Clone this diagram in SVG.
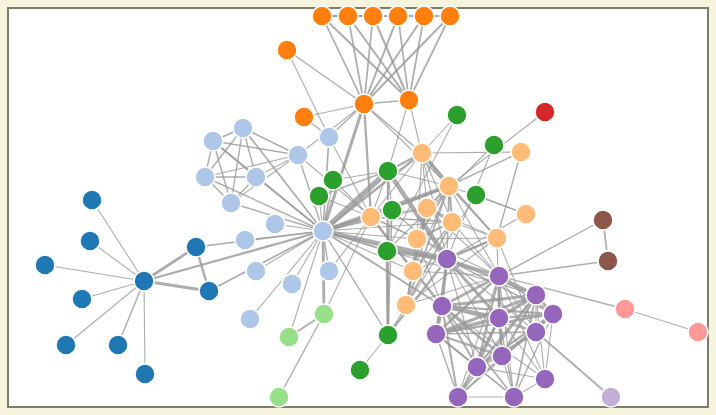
<svg xmlns="http://www.w3.org/2000/svg" width="716" height="415" viewBox="0 0 716 415">
<style>
.links{stroke:#999;stroke-opacity:.8}
.node circle{r:10px;stroke:#fff;stroke-width:1.5}
.g0 circle{fill:#98df8a}.g1 circle{fill:#1f77b4}.g2 circle{fill:#aec7e8}.g3 circle{fill:#ff7f0e}.g4 circle{fill:#ffbb78}.g5 circle{fill:#2ca02c}.g6 circle{fill:#d62728}.g7 circle{fill:#ff9896}.g8 circle{fill:#9467bd}.g9 circle{fill:#c5b0d5}.g10 circle{fill:#8c564b}
</style>
<rect x="0" y="0" width="716" height="415" fill="#f6f4dc"/>
<rect x="8" y="8" width="700" height="399" fill="#fff" stroke="#7d7d6d" stroke-width="2"/>
<g class="links" stroke-width="1.1">
<line x1="92" y1="200" x2="144" y2="281"/>
<line x1="196" y1="247" x2="144" y2="281" stroke-width="2.83"/>
<line x1="209" y1="291" x2="144" y2="281" stroke-width="3.16"/>
<line x1="209" y1="291" x2="196" y2="247" stroke-width="2.45"/>
<line x1="90" y1="241" x2="144" y2="281"/>
<line x1="45" y1="265" x2="144" y2="281"/>
<line x1="82" y1="299" x2="144" y2="281"/>
<line x1="66" y1="345" x2="144" y2="281"/>
<line x1="118" y1="345" x2="144" y2="281" stroke-width="1.41"/>
<line x1="145" y1="374" x2="144" y2="281"/>
<line x1="323" y1="231" x2="275" y2="224"/>
<line x1="323" y1="231" x2="209" y2="291" stroke-width="1.73"/>
<line x1="323" y1="231" x2="196" y2="247" stroke-width="1.73"/>
<line x1="323" y1="231" x2="144" y2="281" stroke-width="2.24"/>
<line x1="287" y1="50" x2="329" y2="137"/>
<line x1="245" y1="240" x2="323" y2="231"/>
<line x1="256" y1="271" x2="323" y2="231"/>
<line x1="292" y1="284" x2="323" y2="231"/>
<line x1="322" y1="16" x2="409" y2="100" stroke-width="2"/>
<line x1="348" y1="16" x2="409" y2="100" stroke-width="2"/>
<line x1="348" y1="16" x2="322" y2="16" stroke-width="2"/>
<line x1="373" y1="16" x2="409" y2="100" stroke-width="2"/>
<line x1="373" y1="16" x2="322" y2="16" stroke-width="2"/>
<line x1="373" y1="16" x2="348" y2="16" stroke-width="2"/>
<line x1="398" y1="16" x2="409" y2="100" stroke-width="1.73"/>
<line x1="398" y1="16" x2="373" y2="16" stroke-width="2"/>
<line x1="424" y1="16" x2="409" y2="100" stroke-width="1.73"/>
<line x1="424" y1="16" x2="398" y2="16" stroke-width="2.24"/>
<line x1="450" y1="16" x2="409" y2="100" stroke-width="1.73"/>
<line x1="450" y1="16" x2="424" y2="16" stroke-width="2"/>
<line x1="364" y1="104" x2="409" y2="100" stroke-width="1.73"/>
<line x1="364" y1="104" x2="322" y2="16" stroke-width="1.73"/>
<line x1="364" y1="104" x2="348" y2="16" stroke-width="1.73"/>
<line x1="364" y1="104" x2="373" y2="16" stroke-width="1.73"/>
<line x1="364" y1="104" x2="398" y2="16" stroke-width="2"/>
<line x1="364" y1="104" x2="424" y2="16" stroke-width="2"/>
<line x1="364" y1="104" x2="450" y2="16" stroke-width="2"/>
<line x1="364" y1="104" x2="287" y2="50" stroke-width="1.41"/>
<line x1="364" y1="104" x2="323" y2="231" stroke-width="3"/>
<line x1="422" y1="153" x2="364" y2="104" stroke-width="1.41"/>
<line x1="422" y1="153" x2="323" y2="231" stroke-width="2.65"/>
<line x1="449" y1="186" x2="422" y2="153" stroke-width="3.61"/>
<line x1="449" y1="186" x2="364" y2="104"/>
<line x1="449" y1="186" x2="323" y2="231" stroke-width="3.46"/>
<line x1="388" y1="171" x2="422" y2="153" stroke-width="2"/>
<line x1="388" y1="171" x2="323" y2="231" stroke-width="5.57"/>
<line x1="388" y1="171" x2="409" y2="100"/>
<line x1="388" y1="171" x2="449" y2="186"/>
<line x1="371" y1="217" x2="323" y2="231" stroke-width="4.12"/>
<line x1="371" y1="217" x2="364" y2="104" stroke-width="2.24"/>
<line x1="371" y1="217" x2="449" y2="186" stroke-width="2.24"/>
<line x1="371" y1="217" x2="422" y2="153"/>
<line x1="371" y1="217" x2="388" y2="171"/>
<line x1="324" y1="314" x2="323" y2="231" stroke-width="2.83"/>
<line x1="324" y1="314" x2="371" y2="217"/>
<line x1="298" y1="155" x2="364" y2="104"/>
<line x1="298" y1="155" x2="371" y2="217"/>
<line x1="298" y1="155" x2="323" y2="231" stroke-width="1.41"/>
<line x1="304" y1="117" x2="364" y2="104"/>
<line x1="329" y1="137" x2="304" y2="117" stroke-width="1.41"/>
<line x1="329" y1="137" x2="323" y2="231" stroke-width="1.73"/>
<line x1="329" y1="137" x2="364" y2="104" stroke-width="1.41"/>
<line x1="329" y1="137" x2="371" y2="217"/>
<line x1="250" y1="319" x2="323" y2="231"/>
<line x1="329" y1="271" x2="323" y2="231" stroke-width="1.41"/>
<line x1="329" y1="271" x2="371" y2="217"/>
<line x1="243" y1="128" x2="323" y2="231" stroke-width="1.73"/>
<line x1="243" y1="128" x2="298" y2="155" stroke-width="1.41"/>
<line x1="213" y1="141" x2="323" y2="231" stroke-width="1.73"/>
<line x1="213" y1="141" x2="243" y2="128" stroke-width="1.73"/>
<line x1="213" y1="141" x2="298" y2="155" stroke-width="1.41"/>
<line x1="205" y1="177" x2="243" y2="128" stroke-width="1.41"/>
<line x1="205" y1="177" x2="213" y2="141" stroke-width="1.41"/>
<line x1="205" y1="177" x2="323" y2="231" stroke-width="1.41"/>
<line x1="205" y1="177" x2="298" y2="155"/>
<line x1="256" y1="177" x2="243" y2="128" stroke-width="1.41"/>
<line x1="256" y1="177" x2="213" y2="141" stroke-width="1.41"/>
<line x1="256" y1="177" x2="205" y2="177" stroke-width="1.41"/>
<line x1="256" y1="177" x2="323" y2="231" stroke-width="1.41"/>
<line x1="256" y1="177" x2="298" y2="155"/>
<line x1="231" y1="203" x2="243" y2="128" stroke-width="1.41"/>
<line x1="231" y1="203" x2="213" y2="141" stroke-width="1.41"/>
<line x1="231" y1="203" x2="205" y2="177" stroke-width="1.41"/>
<line x1="231" y1="203" x2="256" y2="177" stroke-width="1.41"/>
<line x1="231" y1="203" x2="323" y2="231" stroke-width="1.41"/>
<line x1="231" y1="203" x2="298" y2="155"/>
<line x1="526" y1="214" x2="449" y2="186"/>
<line x1="545" y1="112" x2="449" y2="186"/>
<line x1="497" y1="238" x2="422" y2="153" stroke-width="1.41"/>
<line x1="497" y1="238" x2="449" y2="186" stroke-width="1.73"/>
<line x1="521" y1="152" x2="497" y2="238" stroke-width="1.41"/>
<line x1="521" y1="152" x2="449" y2="186" stroke-width="1.41"/>
<line x1="521" y1="152" x2="422" y2="153"/>
<line x1="333" y1="180" x2="323" y2="231" stroke-width="1.73"/>
<line x1="333" y1="180" x2="388" y2="171"/>
<line x1="333" y1="180" x2="371" y2="217"/>
<line x1="289" y1="337" x2="324" y2="314" stroke-width="1.73"/>
<line x1="289" y1="337" x2="323" y2="231"/>
<line x1="279" y1="397" x2="324" y2="314" stroke-width="1.41"/>
<line x1="625" y1="309" x2="698" y2="332"/>
<line x1="499" y1="276" x2="625" y2="309" stroke-width="1.41"/>
<line x1="499" y1="276" x2="449" y2="186"/>
<line x1="499" y1="276" x2="371" y2="217"/>
<line x1="499" y1="276" x2="323" y2="231"/>
<line x1="387" y1="251" x2="388" y2="171" stroke-width="1.73"/>
<line x1="387" y1="251" x2="323" y2="231" stroke-width="1.41"/>
<line x1="457" y1="115" x2="387" y2="251"/>
<line x1="457" y1="115" x2="422" y2="153"/>
<line x1="388" y1="335" x2="387" y2="251" stroke-width="3"/>
<line x1="388" y1="335" x2="388" y2="171" stroke-width="1.41"/>
<line x1="388" y1="335" x2="323" y2="231" stroke-width="1.41"/>
<line x1="476" y1="195" x2="388" y2="335"/>
<line x1="476" y1="195" x2="526" y2="214"/>
<line x1="360" y1="370" x2="388" y2="335"/>
<line x1="392" y1="210" x2="388" y2="335" stroke-width="1.41"/>
<line x1="392" y1="210" x2="387" y2="251"/>
<line x1="392" y1="210" x2="388" y2="171"/>
<line x1="447" y1="259" x2="388" y2="335" stroke-width="2.45"/>
<line x1="447" y1="259" x2="387" y2="251" stroke-width="3.46"/>
<line x1="447" y1="259" x2="526" y2="214"/>
<line x1="447" y1="259" x2="392" y2="210"/>
<line x1="447" y1="259" x2="388" y2="171" stroke-width="4.58"/>
<line x1="447" y1="259" x2="323" y2="231" stroke-width="4.36"/>
<line x1="447" y1="259" x2="409" y2="100"/>
<line x1="447" y1="259" x2="449" y2="186" stroke-width="1.41"/>
<line x1="447" y1="259" x2="497" y2="238" stroke-width="2.24"/>
<line x1="447" y1="259" x2="499" y2="276" stroke-width="2"/>
<line x1="494" y1="145" x2="387" y2="251"/>
<line x1="494" y1="145" x2="447" y2="259"/>
<line x1="536" y1="332" x2="447" y2="259"/>
<line x1="536" y1="332" x2="497" y2="238"/>
<line x1="536" y1="332" x2="499" y2="276"/>
<line x1="442" y1="306" x2="447" y2="259" stroke-width="2.65"/>
<line x1="442" y1="306" x2="499" y2="276" stroke-width="2.65"/>
<line x1="442" y1="306" x2="371" y2="217" stroke-width="2.45"/>
<line x1="442" y1="306" x2="536" y2="332"/>
<line x1="442" y1="306" x2="323" y2="231" stroke-width="2"/>
<line x1="436" y1="334" x2="442" y2="306" stroke-width="3.87"/>
<line x1="436" y1="334" x2="447" y2="259" stroke-width="2.24"/>
<line x1="436" y1="334" x2="499" y2="276" stroke-width="2.45"/>
<line x1="436" y1="334" x2="536" y2="332" stroke-width="1.41"/>
<line x1="458" y1="397" x2="499" y2="276"/>
<line x1="458" y1="397" x2="442" y2="306" stroke-width="2"/>
<line x1="458" y1="397" x2="436" y2="334" stroke-width="1.41"/>
<line x1="502" y1="356" x2="499" y2="276" stroke-width="1.41"/>
<line x1="502" y1="356" x2="442" y2="306" stroke-width="2.45"/>
<line x1="502" y1="356" x2="458" y2="397" stroke-width="1.41"/>
<line x1="502" y1="356" x2="436" y2="334" stroke-width="2.24"/>
<line x1="502" y1="356" x2="536" y2="332"/>
<line x1="502" y1="356" x2="447" y2="259"/>
<line x1="499" y1="318" x2="447" y2="259" stroke-width="3"/>
<line x1="499" y1="318" x2="442" y2="306" stroke-width="4.12"/>
<line x1="499" y1="318" x2="436" y2="334" stroke-width="3.61"/>
<line x1="499" y1="318" x2="499" y2="276" stroke-width="2.65"/>
<line x1="499" y1="318" x2="536" y2="332" stroke-width="1.41"/>
<line x1="499" y1="318" x2="497" y2="238"/>
<line x1="499" y1="318" x2="502" y2="356" stroke-width="2.45"/>
<line x1="499" y1="318" x2="458" y2="397" stroke-width="1.73"/>
<line x1="477" y1="367" x2="436" y2="334" stroke-width="2.24"/>
<line x1="477" y1="367" x2="499" y2="276" stroke-width="2.24"/>
<line x1="477" y1="367" x2="499" y2="318" stroke-width="2.45"/>
<line x1="477" y1="367" x2="536" y2="332" stroke-width="1.41"/>
<line x1="477" y1="367" x2="442" y2="306" stroke-width="2"/>
<line x1="477" y1="367" x2="502" y2="356" stroke-width="1.73"/>
<line x1="477" y1="367" x2="458" y2="397" stroke-width="1.41"/>
<line x1="477" y1="367" x2="447" y2="259"/>
<line x1="536" y1="295" x2="447" y2="259" stroke-width="2.24"/>
<line x1="536" y1="295" x2="499" y2="318" stroke-width="3.46"/>
<line x1="536" y1="295" x2="499" y2="276" stroke-width="2.24"/>
<line x1="536" y1="295" x2="477" y2="367" stroke-width="2"/>
<line x1="536" y1="295" x2="442" y2="306" stroke-width="3.16"/>
<line x1="536" y1="295" x2="502" y2="356" stroke-width="2.45"/>
<line x1="536" y1="295" x2="458" y2="397" stroke-width="1.41"/>
<line x1="536" y1="295" x2="436" y2="334" stroke-width="3"/>
<line x1="536" y1="295" x2="536" y2="332"/>
<line x1="536" y1="295" x2="323" y2="231"/>
<line x1="553" y1="314" x2="477" y2="367" stroke-width="2.24"/>
<line x1="553" y1="314" x2="536" y2="295" stroke-width="2.65"/>
<line x1="553" y1="314" x2="499" y2="276" stroke-width="1.73"/>
<line x1="553" y1="314" x2="499" y2="318" stroke-width="2.24"/>
<line x1="553" y1="314" x2="442" y2="306" stroke-width="2.24"/>
<line x1="553" y1="314" x2="502" y2="356" stroke-width="2.24"/>
<line x1="553" y1="314" x2="458" y2="397" stroke-width="1.41"/>
<line x1="553" y1="314" x2="436" y2="334" stroke-width="2.24"/>
<line x1="553" y1="314" x2="536" y2="332"/>
<line x1="553" y1="314" x2="447" y2="259" stroke-width="1.41"/>
<line x1="514" y1="397" x2="536" y2="295" stroke-width="1.73"/>
<line x1="514" y1="397" x2="442" y2="306" stroke-width="1.73"/>
<line x1="514" y1="397" x2="436" y2="334"/>
<line x1="514" y1="397" x2="499" y2="318" stroke-width="1.41"/>
<line x1="514" y1="397" x2="553" y2="314" stroke-width="1.41"/>
<line x1="514" y1="397" x2="499" y2="276"/>
<line x1="514" y1="397" x2="477" y2="367"/>
<line x1="514" y1="397" x2="502" y2="356"/>
<line x1="514" y1="397" x2="458" y2="397"/>
<line x1="611" y1="397" x2="536" y2="332" stroke-width="1.73"/>
<line x1="427" y1="208" x2="449" y2="186" stroke-width="2.24"/>
<line x1="427" y1="208" x2="323" y2="231"/>
<line x1="427" y1="208" x2="422" y2="153"/>
<line x1="427" y1="208" x2="371" y2="217"/>
<line x1="427" y1="208" x2="499" y2="276"/>
<line x1="427" y1="208" x2="497" y2="238"/>
<line x1="452" y1="222" x2="449" y2="186" stroke-width="2.45"/>
<line x1="452" y1="222" x2="427" y2="208" stroke-width="2.45"/>
<line x1="452" y1="222" x2="323" y2="231"/>
<line x1="452" y1="222" x2="422" y2="153"/>
<line x1="452" y1="222" x2="371" y2="217" stroke-width="1.41"/>
<line x1="452" y1="222" x2="499" y2="276"/>
<line x1="452" y1="222" x2="497" y2="238"/>
<line x1="417" y1="239" x2="449" y2="186" stroke-width="2"/>
<line x1="417" y1="239" x2="452" y2="222" stroke-width="2"/>
<line x1="417" y1="239" x2="427" y2="208" stroke-width="2"/>
<line x1="417" y1="239" x2="323" y2="231"/>
<line x1="417" y1="239" x2="422" y2="153"/>
<line x1="417" y1="239" x2="371" y2="217"/>
<line x1="417" y1="239" x2="497" y2="238"/>
<line x1="417" y1="239" x2="442" y2="306"/>
<line x1="413" y1="271" x2="371" y2="217"/>
<line x1="413" y1="271" x2="452" y2="222" stroke-width="1.41"/>
<line x1="413" y1="271" x2="427" y2="208" stroke-width="1.41"/>
<line x1="413" y1="271" x2="417" y2="239" stroke-width="1.41"/>
<line x1="413" y1="271" x2="323" y2="231"/>
<line x1="413" y1="271" x2="499" y2="276"/>
<line x1="413" y1="271" x2="497" y2="238"/>
<line x1="413" y1="271" x2="449" y2="186"/>
<line x1="319" y1="196" x2="388" y2="171" stroke-width="1.41"/>
<line x1="319" y1="196" x2="371" y2="217"/>
<line x1="319" y1="196" x2="323" y2="231"/>
<line x1="603" y1="220" x2="499" y2="276" stroke-width="1.41"/>
<line x1="608" y1="261" x2="499" y2="276" stroke-width="1.41"/>
<line x1="608" y1="261" x2="603" y2="220" stroke-width="1.73"/>
<line x1="406" y1="305" x2="452" y2="222" stroke-width="1.73"/>
<line x1="406" y1="305" x2="427" y2="208" stroke-width="1.73"/>
<line x1="406" y1="305" x2="449" y2="186" stroke-width="1.73"/>
<line x1="406" y1="305" x2="499" y2="276"/>
<line x1="406" y1="305" x2="497" y2="238"/>
<line x1="406" y1="305" x2="417" y2="239"/>
<line x1="406" y1="305" x2="413" y2="271"/>
<line x1="545" y1="379" x2="536" y2="295"/>
<line x1="545" y1="379" x2="553" y2="314"/>
<line x1="545" y1="379" x2="514" y2="397"/>
<line x1="545" y1="379" x2="477" y2="367"/>
<line x1="545" y1="379" x2="499" y2="318"/>
<line x1="545" y1="379" x2="499" y2="276"/>
<line x1="545" y1="379" x2="442" y2="306"/>
</g>
<g id="n0" class="node g1"><circle cx="144" cy="281"/></g>
<g id="n1" class="node g1"><circle cx="92" cy="200"/></g>
<g id="n2" class="node g1"><circle cx="196" cy="247"/></g>
<g id="n3" class="node g1"><circle cx="209" cy="291"/></g>
<g id="n4" class="node g1"><circle cx="90" cy="241"/></g>
<g id="n5" class="node g1"><circle cx="45" cy="265"/></g>
<g id="n6" class="node g1"><circle cx="82" cy="299"/></g>
<g id="n7" class="node g1"><circle cx="66" cy="345"/></g>
<g id="n8" class="node g1"><circle cx="118" cy="345"/></g>
<g id="n9" class="node g1"><circle cx="145" cy="374"/></g>
<g id="n10" class="node g2"><circle cx="275" cy="224"/></g>
<g id="n11" class="node g2"><circle cx="323" cy="231"/></g>
<g id="n12" class="node g3"><circle cx="287" cy="50"/></g>
<g id="n13" class="node g2"><circle cx="245" cy="240"/></g>
<g id="n14" class="node g2"><circle cx="256" cy="271"/></g>
<g id="n15" class="node g2"><circle cx="292" cy="284"/></g>
<g id="n16" class="node g3"><circle cx="409" cy="100"/></g>
<g id="n17" class="node g3"><circle cx="322" cy="16"/></g>
<g id="n18" class="node g3"><circle cx="348" cy="16"/></g>
<g id="n19" class="node g3"><circle cx="373" cy="16"/></g>
<g id="n20" class="node g3"><circle cx="398" cy="16"/></g>
<g id="n21" class="node g3"><circle cx="424" cy="16"/></g>
<g id="n22" class="node g3"><circle cx="450" cy="16"/></g>
<g id="n23" class="node g3"><circle cx="364" cy="104"/></g>
<g id="n24" class="node g4"><circle cx="422" cy="153"/></g>
<g id="n25" class="node g4"><circle cx="449" cy="186"/></g>
<g id="n26" class="node g5"><circle cx="388" cy="171"/></g>
<g id="n27" class="node g4"><circle cx="371" cy="217"/></g>
<g id="n28" class="node g0"><circle cx="324" cy="314"/></g>
<g id="n29" class="node g2"><circle cx="298" cy="155"/></g>
<g id="n30" class="node g3"><circle cx="304" cy="117"/></g>
<g id="n31" class="node g2"><circle cx="329" cy="137"/></g>
<g id="n32" class="node g2"><circle cx="250" cy="319"/></g>
<g id="n33" class="node g2"><circle cx="329" cy="271"/></g>
<g id="n34" class="node g2"><circle cx="243" cy="128"/></g>
<g id="n35" class="node g2"><circle cx="213" cy="141"/></g>
<g id="n36" class="node g2"><circle cx="205" cy="177"/></g>
<g id="n37" class="node g2"><circle cx="256" cy="177"/></g>
<g id="n38" class="node g2"><circle cx="231" cy="203"/></g>
<g id="n39" class="node g4"><circle cx="526" cy="214"/></g>
<g id="n40" class="node g6"><circle cx="545" cy="112"/></g>
<g id="n41" class="node g4"><circle cx="497" cy="238"/></g>
<g id="n42" class="node g4"><circle cx="521" cy="152"/></g>
<g id="n43" class="node g5"><circle cx="333" cy="180"/></g>
<g id="n44" class="node g0"><circle cx="289" cy="337"/></g>
<g id="n45" class="node g0"><circle cx="279" cy="397"/></g>
<g id="n46" class="node g7"><circle cx="698" cy="332"/></g>
<g id="n47" class="node g7"><circle cx="625" cy="309"/></g>
<g id="n48" class="node g8"><circle cx="499" cy="276"/></g>
<g id="n49" class="node g5"><circle cx="387" cy="251"/></g>
<g id="n50" class="node g5"><circle cx="457" cy="115"/></g>
<g id="n51" class="node g5"><circle cx="388" cy="335"/></g>
<g id="n52" class="node g5"><circle cx="476" cy="195"/></g>
<g id="n53" class="node g5"><circle cx="360" cy="370"/></g>
<g id="n54" class="node g5"><circle cx="392" cy="210"/></g>
<g id="n55" class="node g8"><circle cx="447" cy="259"/></g>
<g id="n56" class="node g5"><circle cx="494" cy="145"/></g>
<g id="n57" class="node g8"><circle cx="536" cy="332"/></g>
<g id="n58" class="node g8"><circle cx="442" cy="306"/></g>
<g id="n59" class="node g8"><circle cx="436" cy="334"/></g>
<g id="n60" class="node g8"><circle cx="458" cy="397"/></g>
<g id="n61" class="node g8"><circle cx="502" cy="356"/></g>
<g id="n62" class="node g8"><circle cx="499" cy="318"/></g>
<g id="n63" class="node g8"><circle cx="477" cy="367"/></g>
<g id="n64" class="node g8"><circle cx="536" cy="295"/></g>
<g id="n65" class="node g8"><circle cx="553" cy="314"/></g>
<g id="n66" class="node g8"><circle cx="514" cy="397"/></g>
<g id="n67" class="node g9"><circle cx="611" cy="397"/></g>
<g id="n68" class="node g4"><circle cx="427" cy="208"/></g>
<g id="n69" class="node g4"><circle cx="452" cy="222"/></g>
<g id="n70" class="node g4"><circle cx="417" cy="239"/></g>
<g id="n71" class="node g4"><circle cx="413" cy="271"/></g>
<g id="n72" class="node g5"><circle cx="319" cy="196"/></g>
<g id="n73" class="node g10"><circle cx="603" cy="220"/></g>
<g id="n74" class="node g10"><circle cx="608" cy="261"/></g>
<g id="n75" class="node g4"><circle cx="406" cy="305"/></g>
<g id="n76" class="node g8"><circle cx="545" cy="379"/></g>
</svg>
